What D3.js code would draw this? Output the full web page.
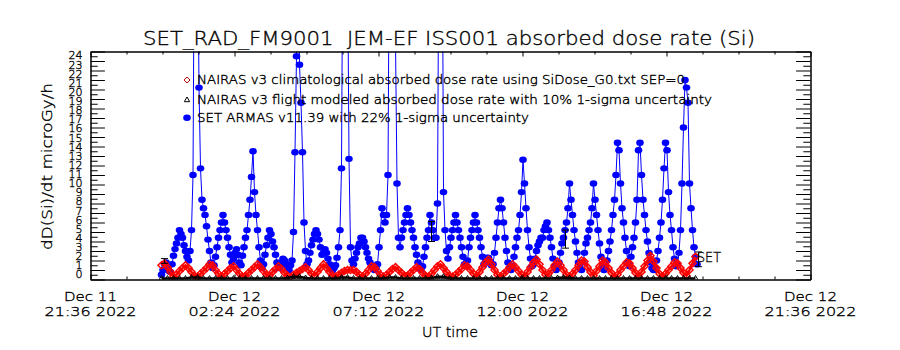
<!DOCTYPE html>
<html>
<head>
<meta charset="utf-8">
<script src="https://cdn.jsdelivr.net/npm/d3@7"></script>
<style>
  body { margin: 0; background: #fff; }
  text { font-family: "DejaVu Sans", sans-serif; font-weight: 200; fill: #000;
         stroke: #000; stroke-width: 0.35; white-space: pre; }
</style>
</head>
<body>
<div id="chart"></div>
<script>
// SET ARMAS dose rate, one value every 3 minutes (microGy/h)
const armasStart = "2022-12-11T23:58:00Z";
const armasStepMin = 3;
const armasDose = [
  0.5, 1.0, 1.6, 1.8, 1.4, 0.9, 0.8, 1.6, 2.5, 3.2,
  3.8, 4.4, 5.2, 4.8, 4.4, 3.6, 3.0, 2.4, 2.0, 3.0,
  5.2, 11.0, 40, 60, 40, 20.2, 11.7, 8.4, 7.5, 6.8,
  5.6, 4.2, 3.0, 1.8, 1.2, 1.5, 2.4, 3.4, 4.4, 5.2,
  6.0, 6.8, 6.0, 5.2, 4.4, 3.4, 2.6, 1.8, 2.2, 2.8,
  3.2, 2.6, 1.8, 1.5, 2.5, 3.4, 4.4, 5.2, 6.8, 8.4,
  10.8, 13.5, 9.2, 6.8, 5.2, 3.4, 2.0, 1.2, 1.6, 2.6,
  3.6, 4.4, 5.2, 4.8, 4.0, 3.4, 2.6, 1.8, 1.2, 1.4,
  1.8, 2.2, 2.0, 1.6, 1.2, 1.0, 1.5, 2.0, 5.0, 13.4,
  23.5, 60, 22.6, 18.6, 13.4, 6.0, 3.0, 1.6, 2.0, 2.8,
  3.6, 4.2, 4.8, 5.2, 4.8, 4.2, 3.4, 2.6, 2.8, 3.2,
  2.8, 2.2, 1.6, 1.2, 1.0, 1.2, 1.5, 2.3, 3.4, 5.2,
  11.7, 40, 60, 55, 35, 12.7, 3.4, 2.0, 1.6, 2.2,
  2.8, 3.4, 3.8, 4.4, 4.4, 4.0, 3.4, 2.8, 2.2, 1.8,
  1.4, 1.2, 1.0, 1.2, 1.6, 3.4, 5.2, 7.5, 6.8, 6.0,
  6.8, 11.0, 40, 60, 60, 45, 25, 10.1, 4.4, 3.4,
  4.4, 5.2, 6.0, 6.8, 7.5, 6.8, 6.0, 5.2, 4.4, 3.4,
  2.6, 1.8, 1.2, 1.0, 1.4, 2.4, 3.4, 4.4, 5.2, 6.8,
  6.0, 5.2, 4.4, 4.4, 8.0, 40, 60, 45, 9.2, 5.2,
  3.0, 2.2, 3.4, 4.4, 5.2, 6.0, 6.8, 6.0, 5.2, 4.4,
  3.4, 2.4, 1.6, 1.4, 2.0, 3.4, 4.4, 5.2, 6.0, 6.8,
  6.0, 5.2, 4.4, 3.4, 2.4, 1.6, 1.8, 2.3, 2.3, 1.9,
  1.5, 1.6, 2.8, 4.4, 6.0, 7.5, 8.4, 7.5, 6.0, 4.4,
  3.0, 1.8, 1.2, 1.0, 1.4, 2.4, 3.4, 4.4, 5.2, 6.8,
  9.2, 12.6, 10.1, 7.5, 5.2, 3.4, 2.2, 1.4, 1.6, 2.2,
  3.0, 3.6, 4.0, 4.4, 4.4, 5.2, 5.6, 6.0, 5.2, 4.4,
  3.4, 2.2, 1.4, 1.0, 1.2, 1.8, 2.8, 3.8, 4.4, 5.2,
  6.0, 7.5, 10.1, 8.4, 6.8, 5.2, 4.0, 2.8, 1.8, 1.2,
  1.0, 1.8, 2.8, 3.8, 4.4, 5.2, 6.0, 7.5, 10.1, 8.4,
  6.8, 5.2, 3.8, 2.4, 1.4, 1.0, 1.2, 2.0, 3.0, 4.0,
  5.2, 6.8, 8.4, 11.0, 14.4, 13.6, 10.1, 7.5, 6.0, 4.4,
  3.0, 1.8, 1.4, 2.4, 3.4, 4.4, 6.0, 8.4, 13.6, 14.4,
  11.0, 8.4, 6.8, 5.2, 4.0, 2.8, 1.8, 1.2, 1.0, 1.2,
  2.0, 3.0, 4.4, 6.0, 8.4, 11.7, 14.4, 13.6, 9.2, 6.8,
  5.2, 3.4, 2.2, 1.4, 1.6, 2.8, 5.2, 10.1, 16.0, 21.0,
  20.2, 18.6, 10.1, 7.5, 5.2, 3.4, 2.4, 1.6
];

// NAIRAS v3 climatological dose rate, one value every 6 minutes
const climStart = "2022-12-11T23:58:00Z";
const climStepMin = 6;
const climDose = [
  1.5, 1.7, 1.3, 0.8, 0.3, 0.5, 0.9, 1.2, 1.5, 1.2,
  0.8, 0.4, 0.3, 0.6, 0.9, 1.2, 1.6, 1.5, 1.0, 0.6,
  0.3, 0.6, 0.9, 1.2, 1.4, 1.0, 0.6, 0.3, 0.4, 0.7,
  1.0, 1.3, 1.6, 1.3, 0.9, 0.5, 0.4, 0.8, 1.1, 1.4,
  1.1, 0.7, 0.4, 0.25, 0.5, 0.7, 0.9, 1.1, 1.3, 1.0,
  0.6, 0.4, 0.8, 1.2, 1.6, 1.2, 0.8, 0.4, 0.3, 0.5,
  0.7, 0.9, 1.0, 1.0, 1.0, 0.8, 0.5, 0.3, 0.6, 1.0,
  1.4, 1.3, 0.9, 0.5, 0.3, 0.5, 0.8, 1.1, 1.3, 1.0,
  0.7, 0.4, 0.4, 0.7, 1.0, 1.3, 1.1, 0.7, 0.4, 0.3,
  0.6, 1.0, 1.4, 1.6, 1.2, 0.8, 0.4, 0.3, 0.5, 0.8,
  1.1, 1.5, 1.4, 1.0, 0.6, 0.3, 0.8, 1.3, 1.8, 2.1,
  1.6, 1.0, 0.5, 0.3, 0.6, 0.9, 1.3, 1.6, 1.3, 0.9,
  0.5, 0.3, 0.8, 1.3, 1.8, 2.1, 1.6, 1.0, 0.5, 0.6,
  1.0, 1.5, 1.9, 1.5, 1.0, 0.5, 0.3, 0.6, 1.0, 1.5,
  2.0, 1.9, 1.3, 0.8, 0.4, 0.9, 1.4, 2.0, 1.8, 1.2,
  0.7, 0.3, 0.5, 1.0, 1.4, 1.8, 1.7, 1.2, 0.7, 0.3,
  0.8, 1.4, 2.0, 2.5, 1.9, 1.2, 0.6, 0.3, 0.6, 1.0,
  1.4, 1.8, 1.7, 1.2, 0.7, 0.4, 1.0, 1.7, 2.4
];

// NAIRAS v3 flight modeled dose rate, one value every 12 minutes
const flightStart = "2022-12-11T23:58:00Z";
const flightStepMin = 12;
const flightDose = [
  0.1, 0.1, 0.1, 0.1, 0.1, 0.2, 0.2, 0.1, 0.1, 0.1,
  0.1, 0.1, 0.1, 0.1, 0.1, 0.1, 0.1, 0.1, 0.1, 0.1,
  0.1, 0.15, 0.3, 0.3, 0.15, 0.1, 0.1, 0.1, 0.1, 0.1,
  0.2, 0.2, 0.1, 0.1, 0.1, 0.1, 0.1, 0.1, 0.2, 0.2,
  0.1, 0.1, 0.1, 0.1, 0.1, 0.15, 0.3, 0.3, 0.1, 0.1,
  0.1, 0.1, 0.1, 0.1, 0.1, 0.1, 0.1, 0.1, 0.1, 0.1,
  0.1, 0.1, 0.1, 0.1, 0.1, 0.1, 0.15, 0.2, 0.15, 0.1,
  0.1, 0.1, 0.1, 0.1, 0.1, 0.1, 0.1, 0.1, 0.1, 0.1,
  0.1, 0.1, 0.1, 0.1, 0.1, 0.1, 0.1, 0.1, 0.1, 0.1
];

// sample SET ARMAS points with their 1-sigma range
const errTimes = ["2022-12-12T00:02:00Z", "2022-12-12T08:56:00Z", "2022-12-12T13:24:00Z", "2022-12-12T17:50:00Z"];
const errLow = [1.7, 4.0, 3.3, 1.35];
const errHigh = [2.2, 6.1, 5.2, 2.9];

const xTickTimes = ["2022-12-11T21:36:00Z", "2022-12-12T02:24:00Z", "2022-12-12T07:12:00Z",
                    "2022-12-12T12:00:00Z", "2022-12-12T16:48:00Z", "2022-12-12T21:36:00Z"];
const yTickValues = [0, 1, 2, 3, 4, 5, 6, 7, 8, 9, 10, 11, 12, 13, 14, 15, 16, 17, 18, 19, 20, 21, 22, 23, 24];

const legendLabels = [
  "NAIRAS v3 climatological absorbed dose rate using SiDose_G0.txt SEP=0",
  "NAIRAS v3 flight modeled absorbed dose rate with 10% 1-sigma uncertainty",
  "SET ARMAS v11.39 with 22% 1-sigma uncertainty"
];

const titleText = "SET_RAD_FM9001  JEM-EF ISS001 absorbed dose rate (Si)";

// ---------------------------------------------------------------
const W = 900, H = 350;
const plot = { left: 90.5, right: 810.5, top: 51.5, bottom: 279.5 };

const svg = d3.select("#chart").append("svg")
  .attr("width", W).attr("height", H)
  .style("display", "block");

const xTicks = xTickTimes.map(d => d3.isoParse(d));
const x = d3.scaleUtc()
  .domain([xTicks[0], xTicks[xTicks.length - 1]])
  .range([plot.left, plot.right]);
const y = d3.scaleLinear().domain([0, 24]).range([plot.bottom, plot.top]);
// the tick labels sit slightly compressed toward the middle
const yLab = d3.scaleLinear().domain([0, 24]).range([274.5, 55.5]);

function toSeries(start, stepMin, vals) {
  const t0 = d3.isoParse(start).getTime();
  return vals.map((v, i) => ({ t: new Date(t0 + i * stepMin * 60000), v }));
}
const armas = toSeries(armasStart, armasStepMin, armasDose);
const clim = toSeries(climStart, climStepMin, climDose);
const flight = toSeries(flightStart, flightStepMin, flightDose);

svg.append("clipPath").attr("id", "clip")
  .append("rect")
  .attr("x", plot.left).attr("y", plot.top)
  .attr("width", plot.right - plot.left).attr("height", plot.bottom - plot.top);

const data = svg.append("g").attr("clip-path", "url(#clip)");

const line = d3.line().x(d => x(d.t)).y(d => y(d.v));

const diamond = "M0,-3.5L3.5,0L0,3.5L-3.5,0Z";
const triangle = "M0,-3L2.7,1.7L-2.7,1.7Z";

// SET ARMAS
data.append("path").datum(armas)
  .attr("fill", "none").attr("stroke", "#0000ff").attr("stroke-width", 1)
  .attr("d", line);
data.selectAll("ellipse.armas").data(armas).enter().append("ellipse")
  .attr("class", "armas")
  .attr("cx", d => x(d.t)).attr("cy", d => y(d.v))
  .attr("rx", 3.8).attr("ry", 3.2).attr("fill", "#0000ff");

// climatological
data.append("path").datum(clim)
  .attr("fill", "none").attr("stroke", "#ff0000").attr("stroke-width", 2.5)
  .attr("d", line);
data.selectAll("path.clim").data(clim).enter().append("path")
  .attr("class", "clim")
  .attr("transform", d => `translate(${x(d.t)},${y(d.v)})`)
  .attr("d", diamond).attr("fill", "none").attr("stroke", "#ff0000").attr("stroke-width", 1.5);

// flight modeled (drawn on top, it hugs the bottom axis)
data.append("path").datum(flight)
  .attr("fill", "none").attr("stroke", "#000").attr("stroke-width", 2.5)
  .attr("d", line);
data.selectAll("path.flight").data(flight).enter().append("path")
  .attr("class", "flight")
  .attr("transform", d => `translate(${x(d.t)},${y(d.v)})`)
  .attr("d", triangle).attr("fill", "none").attr("stroke", "#000");

// error bars
errTimes.forEach((t, i) => {
  const cx = Math.round(x(d3.isoParse(t))) + 0.5;
  const g = svg.append("g").attr("stroke", "#000").attr("stroke-width", 1);
  g.append("line").attr("x1", cx).attr("x2", cx).attr("y1", y(errLow[i])).attr("y2", y(errHigh[i]));
  [errLow[i], errHigh[i]].forEach(v => {
    g.append("line").attr("x1", cx - 3.5).attr("x2", cx + 3.5).attr("y1", y(v)).attr("y2", y(v));
  });
});

// ---------------- axes ----------------
const minorX = [];
for (let i = 0; i < xTicks.length - 1; i++) {
  const a = xTicks[i].getTime(), step = (xTicks[i + 1].getTime() - a) / 4;
  for (let k = 1; k < 4; k++) minorX.push(new Date(a + k * step));
}
const minorY = yTickValues.slice(0, -1).map(v => v + 0.5);

function axisStyle(g) {
  g.selectAll("path.domain").attr("stroke", "#000").attr("stroke-width", 1);
  g.selectAll(".tick line").attr("stroke", "#000").attr("stroke-width", 1);
  g.selectAll(".tick text").remove();
}

svg.append("g").attr("transform", `translate(0,${plot.bottom})`)
  .call(d3.axisBottom(x).tickValues(xTicks).tickSizeInner(-5).tickSizeOuter(0)).call(axisStyle);
svg.append("g").attr("transform", `translate(0,${plot.bottom})`)
  .call(d3.axisBottom(x).tickValues(minorX).tickSizeInner(-3).tickSizeOuter(0)).call(axisStyle);
svg.append("g").attr("transform", `translate(0,${plot.top})`)
  .call(d3.axisTop(x).tickValues(xTicks).tickSizeInner(-5).tickSizeOuter(0)).call(axisStyle);
svg.append("g").attr("transform", `translate(0,${plot.top})`)
  .call(d3.axisTop(x).tickValues(minorX).tickSizeInner(-3).tickSizeOuter(0)).call(axisStyle);

svg.append("g").attr("transform", `translate(${plot.left},0)`)
  .call(d3.axisLeft(y).tickValues(yTickValues).tickSizeInner(-14.4).tickSizeOuter(0)).call(axisStyle);
svg.append("g").attr("transform", `translate(${plot.left},0)`)
  .call(d3.axisLeft(y).tickValues(minorY).tickSizeInner(-7.2).tickSizeOuter(0)).call(axisStyle);
svg.append("g").attr("transform", `translate(${plot.right},0)`)
  .call(d3.axisRight(y).tickValues(yTickValues).tickSizeInner(-14.4).tickSizeOuter(0)).call(axisStyle);
svg.append("g").attr("transform", `translate(${plot.right},0)`)
  .call(d3.axisRight(y).tickValues(minorY).tickSizeInner(-7.2).tickSizeOuter(0)).call(axisStyle);

// y tick labels (they overlap, as in the original)
svg.append("g").selectAll("text").data(yTickValues).enter().append("text")
  .attr("x", 82.5).attr("y", d => yLab(d)).attr("dy", "0.36em")
  .attr("text-anchor", "end").attr("font-size", 11)
  .text(d => d);

// x tick labels
const fmtDay = d3.utcFormat("%b %d");
const fmtTime = d3.utcFormat("%H:%M %Y");
const xl = svg.append("g");
xTicks.forEach(t => {
  xl.append("text").attr("x", x(t)).attr("y", 301).attr("text-anchor", "middle")
    .attr("font-size", 13).attr("textLength", 53).attr("lengthAdjust", "spacingAndGlyphs")
    .text(fmtDay(t));
  xl.append("text").attr("x", x(t)).attr("y", 316).attr("text-anchor", "middle")
    .attr("font-size", 13).attr("textLength", 92).attr("lengthAdjust", "spacingAndGlyphs")
    .text(fmtTime(t));
});

svg.append("text").attr("x", 450).attr("y", 337).attr("text-anchor", "middle")
  .attr("font-size", 14).attr("textLength", 56).attr("lengthAdjust", "spacingAndGlyphs")
  .text("UT time");

svg.append("text")
  .attr("transform", "translate(52,166.5) rotate(-90)")
  .attr("text-anchor", "middle").attr("font-size", 14)
  .attr("textLength", 167).attr("lengthAdjust", "spacingAndGlyphs")
  .text("dD(Si)/dt microGy/h");

svg.append("text").attr("x", 449).attr("y", 45).attr("text-anchor", "middle")
  .attr("font-size", 20).attr("textLength", 612).attr("lengthAdjust", "spacingAndGlyphs")
  .text(titleText);

// legend
const legY = [80, 100, 117.7];
const legW = [488, 515, 332];
const lg = svg.append("g");
lg.append("path").attr("transform", `translate(187,${legY[0]})`).attr("d", "M0,-3L3,0L0,3L-3,0Z")
  .attr("fill", "none").attr("stroke", "#c00000");
lg.append("path").attr("transform", `translate(187,${legY[1]})`).attr("d", triangle)
  .attr("fill", "none").attr("stroke", "#000");
lg.append("ellipse").attr("cx", 187).attr("cy", legY[2]).attr("rx", 3.8).attr("ry", 3.2).attr("fill", "#0000ff");
legendLabels.forEach((s, i) => {
  lg.append("text").attr("x", 197).attr("y", legY[i] + 4.2)
    .attr("font-size", 11.5).attr("textLength", legW[i]).attr("lengthAdjust", "spacingAndGlyphs")
    .text(s);
});

// end-of-series tag
svg.append("text").attr("x", 697).attr("y", 261.7).attr("font-size", 14)
  .attr("textLength", 24).attr("lengthAdjust", "spacingAndGlyphs")
  .text("SET");
</script>
</body>
</html>
